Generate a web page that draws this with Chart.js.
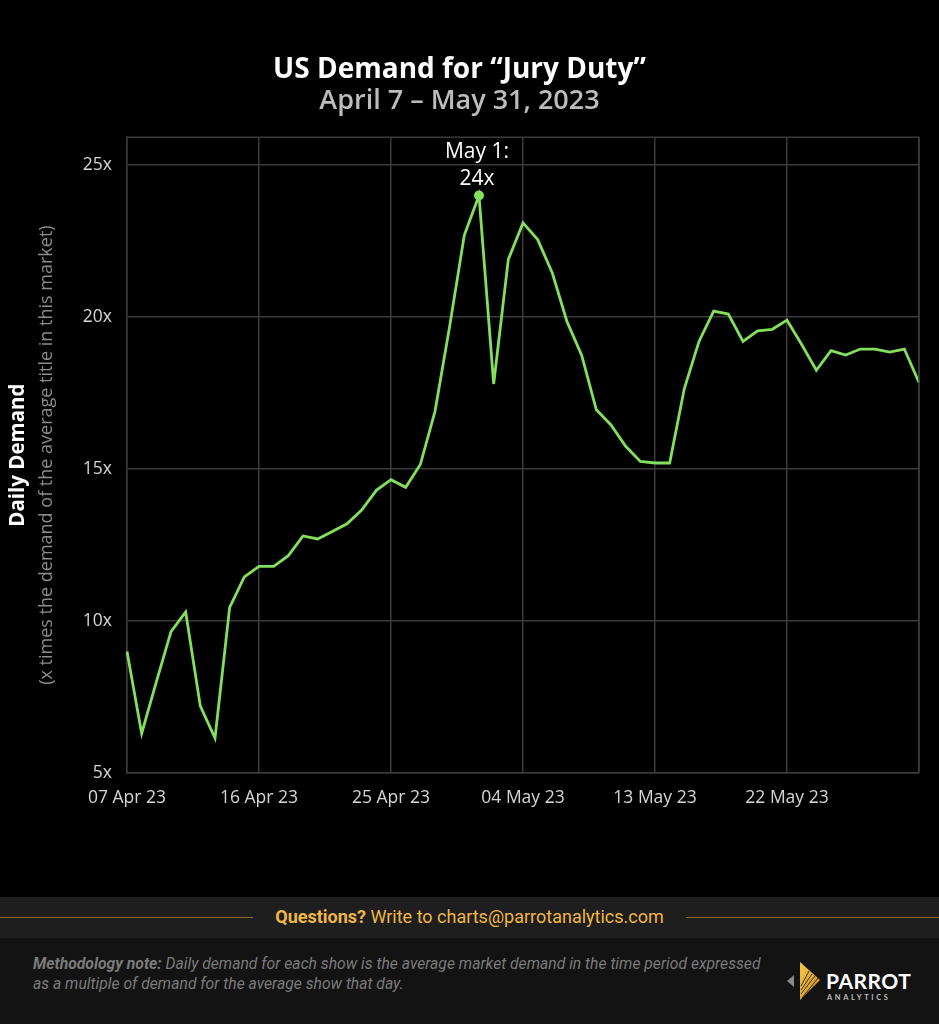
<!DOCTYPE html>
<html>
<head>
<meta charset="utf-8">
<script src="https://cdn.jsdelivr.net/npm/chart.js@4.4.1/dist/chart.umd.min.js"></script>
<style>
  html,body{margin:0;padding:0;background:#000;}
  body{width:939px;height:1024px;position:relative;overflow:hidden;font-family:"Open Sans","Noto Sans",sans-serif;}
  #wrap{position:absolute;left:0;top:0;width:939px;height:897px;}
  #band{position:absolute;left:0;top:897px;width:939px;height:41px;background:#1e1e1e;}
  #band .ln{position:absolute;top:20px;height:1px;background:#8a6a2c;}
  #band .txt{position:absolute;left:0;width:939px;top:9px;text-align:center;color:#f0b744;font-family:"Roboto",sans-serif;font-size:18px;}
  #note{position:absolute;left:0;top:938px;width:939px;height:86px;background:#131313;}
  #note .m{position:absolute;left:33px;top:16px;width:740px;color:#7b7b7b;font-family:"Roboto",sans-serif;font-style:italic;font-size:15.7px;line-height:20px;}
  #logo{position:absolute;left:782px;top:20px;}
</style>
</head>
<body>
<div id="wrap"><canvas id="c" width="939" height="897"></canvas></div>
<div id="band">
  <div class="ln" style="left:0;width:253px;"></div>
  <div class="ln" style="left:686px;width:253px;"></div>
  <div class="txt"><b>Questions?</b> Write to charts@parrotanalytics.com</div>
</div>
<div id="note">
  <div class="m"><b>Methodology note:</b> Daily demand for each show is the average market demand in the time period expressed as a multiple of demand for the average show that day.</div>
  <svg id="logo" width="130" height="48" viewBox="0 0 130 48">
    <defs>
      <linearGradient id="g" x1="0" y1="0" x2="1" y2="1">
        <stop offset="0" stop-color="#f7c948"/>
        <stop offset="1" stop-color="#c9891c"/>
      </linearGradient>
    </defs>
    <polygon points="12,17 5,23 12,29" fill="#8a8a8a"/>
    <polygon points="18,4 38,22 18,42" fill="url(#g)"/>
    <g stroke="#131313" stroke-width="0.8">
      <line x1="20" y1="40" x2="36" y2="20"/>
      <line x1="19" y1="36" x2="33" y2="18"/>
      <line x1="19" y1="32" x2="30" y2="16"/>
      <line x1="19" y1="28" x2="27" y2="13"/>
    </g>
    <text x="44" y="31" fill="#ffffff" font-family="Lato,sans-serif" font-weight="700" font-size="21" letter-spacing="0.5">PARROT</text>
    <text x="45" y="42" fill="#bdbdbd" font-family="Lato,sans-serif" font-weight="700" font-size="7.5" letter-spacing="2.6">ANALYTICS</text>
  </svg>
</div>
<script>
const titleText = "US Demand for \u201cJury Duty\u201d";
const subtitleText = "April 7 \u2013 May 31, 2023";
const yTitleMain = "Daily Demand";
const yTitleSub = "(x times the demand of the average title in this market)";

const dates = [
  "07 Apr 23","08 Apr 23","09 Apr 23","10 Apr 23","11 Apr 23","12 Apr 23","13 Apr 23","14 Apr 23",
  "15 Apr 23","16 Apr 23","17 Apr 23","18 Apr 23","19 Apr 23","20 Apr 23","21 Apr 23","22 Apr 23",
  "23 Apr 23","24 Apr 23","25 Apr 23","26 Apr 23","27 Apr 23","28 Apr 23","29 Apr 23","30 Apr 23",
  "01 May 23","02 May 23","03 May 23","04 May 23","05 May 23","06 May 23","07 May 23","08 May 23",
  "09 May 23","10 May 23","11 May 23","12 May 23","13 May 23","14 May 23","15 May 23","16 May 23",
  "17 May 23","18 May 23","19 May 23","20 May 23","21 May 23","22 May 23","23 May 23","24 May 23",
  "25 May 23","26 May 23","27 May 23","28 May 23","29 May 23","30 May 23","31 May 23"
];
const demand = [
  9.0, 6.3, 8.0, 9.65, 10.3, 7.2, 6.15, 10.45, 11.45, 11.8, 11.8, 12.15, 12.8, 12.7, 12.95, 13.2,
  13.65, 14.3, 14.65, 14.4, 15.15, 16.9, 19.7, 22.7, 24.0, 17.8, 21.9, 23.1, 22.55, 21.45, 19.85, 18.75,
  16.95, 16.45, 15.75, 15.25, 15.2, 15.2, 17.65, 19.2, 20.2, 20.1, 19.2, 19.55, 19.6, 19.9, 19.1, 18.25,
  18.9, 18.75, 18.95, 18.95, 18.85, 18.95, 17.85
];
const yTicks = [5, 10, 15, 20, 25];
const xTickLabels = ["07 Apr 23","16 Apr 23","25 Apr 23","04 May 23","13 May 23","22 May 23"];
const xGridDates = ["07 Apr 23","16 Apr 23","25 Apr 23","04 May 23","13 May 23","22 May 23","31 May 23"];
const peakDate = "01 May 23";
const peakLabel = ["May 1:", "24x"];

const GREEN = "#84e05c";
const GRID = "#3b3b3b";
const FONT = "'Open Sans', 'Noto Sans', sans-serif";

const extras = {
  id: 'extras',
  afterDatasetsDraw(chart) {
    const {ctx, chartArea: a} = chart;
    ctx.save();
    ctx.strokeStyle = GRID;
    ctx.lineWidth = 1.5;
    ctx.beginPath();
    ctx.moveTo(a.left, a.top); ctx.lineTo(a.right, a.top); ctx.lineTo(a.right, a.bottom);
    ctx.stroke();
    // peak annotation
    const meta = chart.getDatasetMeta(0);
    const pi = dates.indexOf(peakDate);
    const pt = meta.data[pi];
    ctx.fillStyle = "#ffffff";
    ctx.font = "500 21px " + FONT;
    ctx.textAlign = "center";
    ctx.textBaseline = "middle";
    ctx.fillText(peakLabel[0], pt.x - 2, pt.y - 44);
    ctx.fillText(peakLabel[1], pt.x - 2, pt.y - 17);
    // y titles
    const cy = (a.top + a.bottom) / 2;
    ctx.translate(18, cy);
    ctx.rotate(-Math.PI / 2);
    ctx.fillStyle = "#ffffff";
    ctx.font = "bold 20.5px " + FONT;
    ctx.fillText(yTitleMain, 0, 0);
    ctx.fillStyle = "#8c8c8c";
    ctx.font = "18px " + FONT;
    ctx.fillText(yTitleSub, 0, 29);
    ctx.restore();
  }
};

new Chart(document.getElementById('c'), {
  type: 'line',
  data: {
    labels: dates,
    datasets: [{
      data: demand,
      borderColor: GREEN,
      backgroundColor: GREEN,
      borderWidth: 2.8,
      tension: 0,
      pointRadius: (c) => c.index === dates.indexOf(peakDate) ? 5 : 0,
      pointHoverRadius: 0,
      pointBorderWidth: 0
    }]
  },
  options: {
    responsive: false,
    animation: false,
    devicePixelRatio: 1,
    layout: { padding: { left: 0, right: 20, top: 0, bottom: 0 } },
    plugins: {
      legend: { display: false },
      tooltip: { enabled: false },
      title: {
        display: true, text: titleText, color: "#ffffff",
        font: { family: FONT, size: 28, weight: 'bold', lineHeight: 1.1 },
        padding: { top: 54.5, bottom: 0 }
      },
      subtitle: {
        display: true, text: subtitleText, color: "#bcbcbc",
        font: { family: FONT, size: 27, weight: '600', lineHeight: 1.2 },
        padding: { top: 0, bottom: 19.5 }
      }
    },
    scales: {
      x: {
        type: 'category',
        offset: false,
        afterFit: (s) => { s.height = 124; },
        grid: {
          drawTicks: false,
          color: (c) => (c.tick && xGridDates.includes(dates[c.tick.value])) ? GRID : 'rgba(0,0,0,0)',
          lineWidth: 1.5
        },
        border: { display: true, color: GRID, width: 1.5 },
        ticks: {
          autoSkip: false, maxRotation: 0, padding: 15,
          color: "#d6d6d6", font: { family: FONT, size: 17.5 },
          callback: function(v, i) { const l = dates[i]; return xTickLabels.includes(l) ? l : ''; }
        }
      },
      y: {
        min: 5, max: 25.92,
        afterFit: (s) => { s.width = 127; },
        afterBuildTicks: (s) => { s.ticks = yTicks.map(v => ({ value: v })); },
        grid: { drawTicks: false, color: GRID, lineWidth: 1.5 },
        border: { display: true, color: GRID, width: 1.5 },
        ticks: {
          padding: 15, color: "#d6d6d6", font: { family: FONT, size: 17.5 },
          callback: (v) => v + 'x'
        }
      }
    }
  },
  plugins: [extras]
});
</script>
</body>
</html>
